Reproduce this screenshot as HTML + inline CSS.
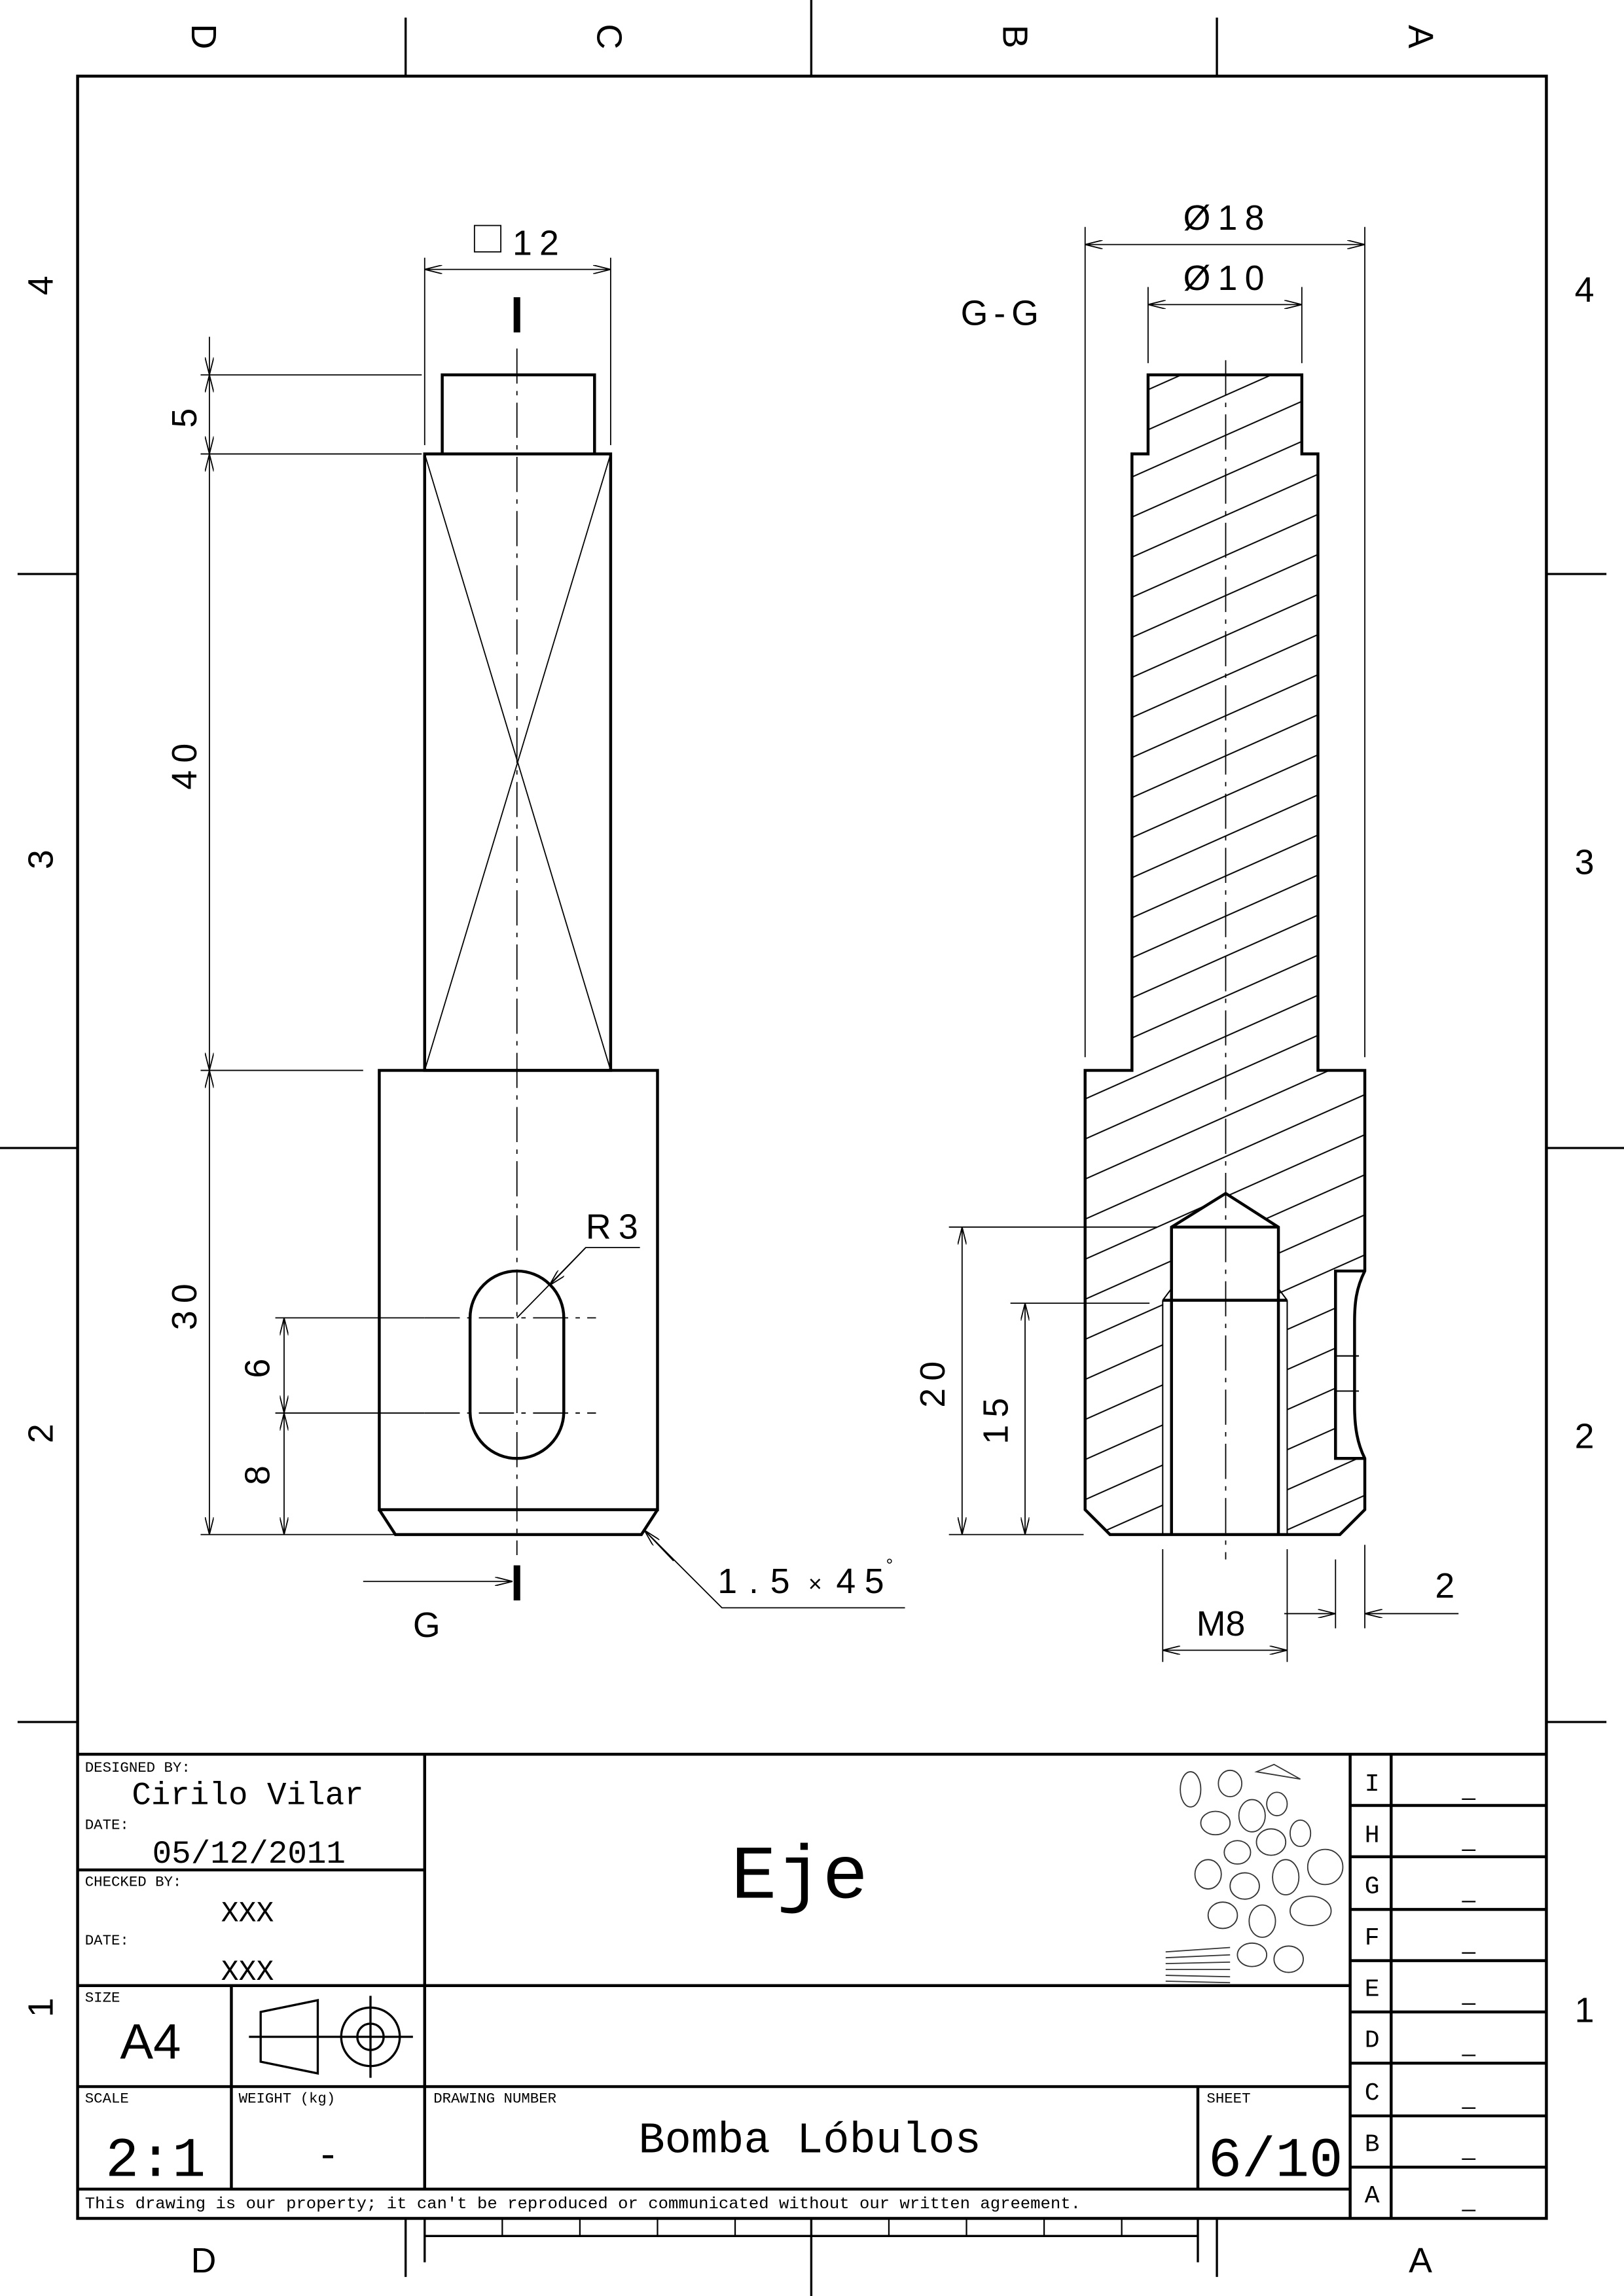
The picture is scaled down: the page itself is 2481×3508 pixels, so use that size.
<!DOCTYPE html>
<html><head><meta charset="utf-8"><style>
html,body{margin:0;padding:0;background:#fff}
svg{display:block}
.s{font-family:"Liberation Sans",sans-serif}
.mo{font-family:"Liberation Mono",monospace}
</style></head><body>
<svg width="2481" height="3508" viewBox="0 0 1109 1568" preserveAspectRatio="none" xmlns="http://www.w3.org/2000/svg">
<defs>
<marker id="a" viewBox="0 0 12 6" refX="12" refY="3" markerWidth="12" markerHeight="6" markerUnits="userSpaceOnUse" orient="auto-start-reverse">
<path d="M0,0 L12,3 L0,6" fill="none" stroke="#000" stroke-width="0.8"/></marker>
<pattern id="h" patternUnits="userSpaceOnUse" width="60" height="25" patternTransform="rotate(-24)">
<line x1="0" y1="12" x2="60" y2="12" stroke="#000" stroke-width="0.9"/></pattern>
</defs>
<rect width="1109" height="1568" fill="#fff"/>
<g stroke="#000" fill="none">
<rect x="53" y="52" width="1003" height="1463" stroke-width="2"/>
<g stroke-width="1.5">
<line x1="277" y1="12" x2="277" y2="52"/><line x1="554" y1="0" x2="554" y2="52"/><line x1="831" y1="12" x2="831" y2="52"/>
<line x1="12" y1="392" x2="53" y2="392"/><line x1="0" y1="784" x2="53" y2="784"/><line x1="12" y1="1176" x2="53" y2="1176"/>
<line x1="1056" y1="392" x2="1097" y2="392"/><line x1="1056" y1="784" x2="1109" y2="784"/><line x1="1056" y1="1176" x2="1097" y2="1176"/>
<line x1="277" y1="1515" x2="277" y2="1555"/><line x1="554" y1="1515" x2="554" y2="1568"/><line x1="831" y1="1515" x2="831" y2="1555"/>
<line x1="290" y1="1515" x2="290" y2="1545"/><line x1="818" y1="1515" x2="818" y2="1545"/>
<line x1="290" y1="1527" x2="818" y2="1527"/>
</g>
<g stroke-width="1">
<line x1="343" y1="1515" x2="343" y2="1527"/><line x1="396" y1="1515" x2="396" y2="1527"/><line x1="449" y1="1515" x2="449" y2="1527"/><line x1="502" y1="1515" x2="502" y2="1527"/><line x1="607" y1="1515" x2="607" y2="1527"/><line x1="660" y1="1515" x2="660" y2="1527"/><line x1="713" y1="1515" x2="713" y2="1527"/><line x1="766" y1="1515" x2="766" y2="1527"/>
</g>
<g stroke-width="2">
<line x1="53" y1="1198" x2="1056" y2="1198"/>
<line x1="290" y1="1198" x2="290" y2="1495"/>
<line x1="53" y1="1277" x2="290" y2="1277"/>
<line x1="53" y1="1356" x2="922" y2="1356"/>
<line x1="53" y1="1425" x2="922" y2="1425"/>
<line x1="158" y1="1356" x2="158" y2="1495"/>
<line x1="818" y1="1425" x2="818" y2="1495"/>
<line x1="53" y1="1495" x2="922" y2="1495"/>
<line x1="922" y1="1198" x2="922" y2="1515"/>
<line x1="950" y1="1198" x2="950" y2="1515"/>
<line x1="922" y1="1233" x2="1056" y2="1233"/><line x1="922" y1="1268" x2="1056" y2="1268"/><line x1="922" y1="1304" x2="1056" y2="1304"/><line x1="922" y1="1339" x2="1056" y2="1339"/><line x1="922" y1="1374" x2="1056" y2="1374"/><line x1="922" y1="1409" x2="1056" y2="1409"/><line x1="922" y1="1445" x2="1056" y2="1445"/><line x1="922" y1="1480" x2="1056" y2="1480"/>
</g>
<g stroke-width="1.5">
<path d="M178,1374 L217,1366 L217,1416 L178,1408 Z"/>
<circle cx="253" cy="1391" r="20"/><circle cx="253" cy="1391" r="9"/>
<line x1="170" y1="1391" x2="282" y2="1391"/><line x1="253" y1="1363" x2="253" y2="1419"/>
</g>
<g stroke-width="0.8" stroke="#333">
<ellipse cx="813" cy="1222" rx="7" ry="12"/><ellipse cx="840" cy="1218" rx="8" ry="9"/><path d="M858,1210 L888,1215 L870,1205 Z"/>
<ellipse cx="830" cy="1245" rx="10" ry="8"/><ellipse cx="855" cy="1240" rx="9" ry="11"/><ellipse cx="872" cy="1232" rx="7" ry="8"/>
<ellipse cx="845" cy="1265" rx="9" ry="8"/><ellipse cx="868" cy="1258" rx="10" ry="9"/><ellipse cx="888" cy="1252" rx="7" ry="9"/>
<ellipse cx="825" cy="1280" rx="9" ry="10"/><ellipse cx="850" cy="1288" rx="10" ry="9"/><ellipse cx="878" cy="1282" rx="9" ry="12"/><ellipse cx="905" cy="1275" rx="12" ry="12"/>
<ellipse cx="835" cy="1308" rx="10" ry="9"/><ellipse cx="862" cy="1312" rx="9" ry="11"/><ellipse cx="895" cy="1305" rx="14" ry="10"/>
<ellipse cx="855" cy="1335" rx="10" ry="8"/><ellipse cx="880" cy="1338" rx="10" ry="9"/>
<line x1="796" y1="1333" x2="840" y2="1330"/><line x1="796" y1="1337" x2="840" y2="1335"/><line x1="796" y1="1341" x2="840" y2="1340"/><line x1="796" y1="1345" x2="840" y2="1345"/><line x1="796" y1="1349" x2="840" y2="1350"/><line x1="796" y1="1353" x2="840" y2="1354"/>
</g>

<g stroke-width="2">
<path d="M302,310 L302,256 L406,256 L406,310"/>
<rect x="290" y="310" width="127" height="421"/>
<path d="M259,1031 L259,731 L449,731 L449,1031 Z"/>
<path d="M259,1031 L270,1048 L438,1048 L449,1031"/>
<rect x="321" y="868" width="64" height="128" rx="32" ry="32"/>
</g>
<g stroke-width="0.8">
<line x1="290" y1="310" x2="417" y2="731"/><line x1="417" y1="310" x2="290" y2="731"/>
</g>
<line x1="353" y1="238" x2="353" y2="1062" stroke-width="0.8" stroke-dasharray="24,5,3,5"/>
<line x1="290" y1="900" x2="407" y2="900" stroke-width="0.8" stroke-dasharray="24,5,3,5"/>
<line x1="290" y1="965" x2="407" y2="965" stroke-width="0.8" stroke-dasharray="24,5,3,5"/>
<g stroke-width="4.5"><line x1="353" y1="203" x2="353" y2="227"/><line x1="353" y1="1069" x2="353" y2="1093"/></g>
<g stroke-width="0.8">
<line x1="248" y1="1080" x2="350" y2="1080" marker-end="url(#a)"/>
<line x1="290" y1="176" x2="290" y2="304"/><line x1="417" y1="176" x2="417" y2="304"/>
<line x1="290" y1="184" x2="417" y2="184" marker-start="url(#a)" marker-end="url(#a)"/>
<rect x="324" y="154" width="18" height="18"/>
<line x1="137" y1="256" x2="288" y2="256"/><line x1="137" y1="310" x2="288" y2="310"/>
<line x1="137" y1="731" x2="248" y2="731"/><line x1="137" y1="1048" x2="290" y2="1048"/>
<line x1="143" y1="230" x2="143" y2="256" marker-end="url(#a)"/>
<line x1="143" y1="256" x2="143" y2="310" marker-start="url(#a)" marker-end="url(#a)"/>
<line x1="143" y1="310" x2="143" y2="731" marker-start="url(#a)" marker-end="url(#a)"/>
<line x1="143" y1="731" x2="143" y2="1048" marker-start="url(#a)" marker-end="url(#a)"/>
<line x1="188" y1="900" x2="290" y2="900"/><line x1="188" y1="965" x2="290" y2="965"/>
<line x1="194" y1="900" x2="194" y2="965" marker-start="url(#a)" marker-end="url(#a)"/>
<line x1="194" y1="965" x2="194" y2="1048" marker-start="url(#a)" marker-end="url(#a)"/>
<path d="M437,852 L400,852 L353,900"/>
<line x1="400" y1="852" x2="375" y2="878" marker-end="url(#a)"/>
<path d="M618,1098 L493,1098 L440,1045"/>
<line x1="460" y1="1066" x2="440" y2="1045" marker-end="url(#a)"/>
</g>

<path fill="url(#h)" stroke="none" fill-rule="evenodd" d="M784,256 L889,256 L889,310 L900,310 L900,731 L932,731 L932,868 L912,868 L912,996 L932,996 L932,1031 L915,1048 L758,1048 L741,1031 L741,731 L773,731 L773,310 L784,310 Z M800,838 L837,815 L873,838 L873,1048 L800,1048 Z"/>
<rect x="794" y="888" width="85" height="160" fill="#fff" stroke="none"/>
<g stroke-width="0.9">
<line x1="794" y1="888" x2="794" y2="1048"/><line x1="879" y1="888" x2="879" y2="1048"/>
<line x1="794" y1="888" x2="800" y2="880"/><line x1="879" y1="888" x2="873" y2="880"/>
<line x1="912" y1="926" x2="928" y2="926"/><line x1="912" y1="950" x2="928" y2="950"/>
</g>
<g stroke-width="2">
<path d="M784,310 L784,256 L889,256 L889,310 L900,310 L900,731 L932,731 L932,868 C926,880 925,890 925,903 L925,960 C925,975 927,986 932,996 L932,1031 L915,1048 L758,1048 L741,1031 L741,731 L773,731 L773,310 Z"/>
<path d="M932,868 L912,868 L912,996 L932,996"/>
<path d="M800,1048 L800,838 L837,815 L873,838 L873,1048"/>
<line x1="800" y1="838" x2="873" y2="838"/>
<line x1="794" y1="888" x2="879" y2="888"/>
</g>
<line x1="837" y1="246" x2="837" y2="1065" stroke-width="0.8" stroke-dasharray="24,5,3,5"/>
<g stroke-width="0.8">
<line x1="741" y1="155" x2="741" y2="722"/><line x1="932" y1="155" x2="932" y2="722"/>
<line x1="741" y1="167" x2="932" y2="167" marker-start="url(#a)" marker-end="url(#a)"/>
<line x1="784" y1="196" x2="784" y2="248"/><line x1="889" y1="196" x2="889" y2="248"/>
<line x1="784" y1="208" x2="889" y2="208" marker-start="url(#a)" marker-end="url(#a)"/>
<line x1="648" y1="838" x2="790" y2="838"/><line x1="690" y1="890" x2="785" y2="890"/><line x1="648" y1="1048" x2="740" y2="1048"/>
<line x1="657" y1="838" x2="657" y2="1048" marker-start="url(#a)" marker-end="url(#a)"/>
<line x1="700" y1="890" x2="700" y2="1048" marker-start="url(#a)" marker-end="url(#a)"/>
<line x1="794" y1="1058" x2="794" y2="1135"/><line x1="879" y1="1058" x2="879" y2="1135"/>
<line x1="794" y1="1127" x2="879" y2="1127" marker-start="url(#a)" marker-end="url(#a)"/>
<line x1="912" y1="1065" x2="912" y2="1112"/><line x1="932" y1="1055" x2="932" y2="1112"/>
<line x1="877" y1="1102" x2="912" y2="1102" marker-end="url(#a)"/>
<line x1="996" y1="1102" x2="932" y2="1102" marker-end="url(#a)"/>
</g>
</g>

<g font-size="24" class="s">
<text class="s" transform="translate(139,25) rotate(90)" text-anchor="middle" dominant-baseline="central">D</text>
<text class="s" transform="translate(416,25) rotate(90)" text-anchor="middle" dominant-baseline="central">C</text>
<text class="s" transform="translate(693,25) rotate(90)" text-anchor="middle" dominant-baseline="central">B</text>
<text class="s" transform="translate(970,25) rotate(90)" text-anchor="middle" dominant-baseline="central">A</text>
<text class="s" transform="translate(28,195) rotate(-90)" text-anchor="middle" dominant-baseline="central">4</text>
<text class="s" transform="translate(28,587) rotate(-90)" text-anchor="middle" dominant-baseline="central">3</text>
<text class="s" transform="translate(28,979) rotate(-90)" text-anchor="middle" dominant-baseline="central">2</text>
<text class="s" transform="translate(28,1371) rotate(-90)" text-anchor="middle" dominant-baseline="central">1</text>
<text class="s" x="1082" y="206" text-anchor="middle">4</text>
<text class="s" x="1082" y="597" text-anchor="middle">3</text>
<text class="s" x="1082" y="989" text-anchor="middle">2</text>
<text class="s" x="1082" y="1381" text-anchor="middle">1</text>
<text class="s" x="139" y="1552" text-anchor="middle">D</text>
<text class="s" x="970" y="1552" text-anchor="middle">A</text>
</g>
<g font-size="24" letter-spacing="5" class="s">
<text class="s" x="350" y="174">12</text>
<text class="s" x="808" y="157">Ø18</text>
<text class="s" x="808" y="198">Ø10</text>
<text class="s" x="656" y="222" letter-spacing="4">G-G</text>
<text class="s" x="282" y="1118">G</text>
<text class="s" x="400" y="846">R3</text>
<text class="s" x="490" y="1088" letter-spacing="8">1.5</text>
<text class="s" x="552" y="1087" font-size="16" letter-spacing="0">×</text>
<text class="s" x="571" y="1088" letter-spacing="6">45</text>
<text class="s" x="605" y="1073" font-size="12" letter-spacing="0">°</text>
<text class="s" x="817" y="1117" letter-spacing="0">M8</text>
<text class="s" x="980" y="1091">2</text>
<text class="s" transform="translate(126,283) rotate(-90)" text-anchor="middle" dominant-baseline="central">5</text>
<text class="s" transform="translate(126,521) rotate(-90)" text-anchor="middle" dominant-baseline="central">40</text>
<text class="s" transform="translate(126,890) rotate(-90)" text-anchor="middle" dominant-baseline="central">30</text>
<text class="s" transform="translate(176,932) rotate(-90)" text-anchor="middle" dominant-baseline="central">6</text>
<text class="s" transform="translate(176,1005) rotate(-90)" text-anchor="middle" dominant-baseline="central">8</text>
<text class="s" transform="translate(637,943) rotate(-90)" text-anchor="middle" dominant-baseline="central">20</text>
<text class="s" transform="translate(680,968) rotate(-90)" text-anchor="middle" dominant-baseline="central">15</text>
</g>
<g>
<text class="mo" x="58" y="1210" font-size="10">DESIGNED BY:</text>
<text class="mo" x="90" y="1232" font-size="22">Cirilo Vilar</text>
<text class="mo" x="58" y="1249" font-size="10">DATE:</text>
<text class="mo" x="104" y="1272" font-size="22">05/12/2011</text>
<text class="mo" x="58" y="1288" font-size="10">CHECKED BY:</text>
<text class="mo" x="151" y="1312" font-size="20">XXX</text>
<text class="mo" x="58" y="1328" font-size="10">DATE:</text>
<text class="mo" x="151" y="1352" font-size="20">XXX</text>
<text class="mo" x="58" y="1367" font-size="10">SIZE</text>
<text class="s" x="82" y="1406" font-size="34">A4</text>
<text class="mo" x="58" y="1436" font-size="10">SCALE</text>
<text class="mo" x="163" y="1436" font-size="10">WEIGHT (kg)</text>
<text class="mo" x="296" y="1436" font-size="10">DRAWING NUMBER</text>
<text class="mo" x="824" y="1436" font-size="10">SHEET</text>
<text class="mo" x="72" y="1486" font-size="38">2:1</text>
<text class="mo" x="224" y="1480" font-size="26" text-anchor="middle">-</text>
<text class="mo" x="553" y="1470" font-size="30" text-anchor="middle">Bomba Lóbulos</text>
<text class="mo" x="825" y="1486" font-size="38" textLength="92" lengthAdjust="spacingAndGlyphs">6/10</text>
<text class="mo" x="546" y="1296" font-size="52" text-anchor="middle">Eje</text>
<text class="mo" x="58" y="1508" font-size="11" textLength="680" lengthAdjust="spacingAndGlyphs">This drawing is our property; it can't be reproduced or communicated without our written agreement.</text>
</g>
<g font-size="17" text-anchor="middle">
<text class="mo" x="937" y="1223">I</text><text class="mo" x="937" y="1258">H</text><text class="mo" x="937" y="1293">G</text><text class="mo" x="937" y="1328">F</text><text class="mo" x="937" y="1363">E</text><text class="mo" x="937" y="1398">D</text><text class="mo" x="937" y="1434">C</text><text class="mo" x="937" y="1469">B</text><text class="mo" x="937" y="1504">A</text>
</g>
<g font-size="16" text-anchor="middle">
<text class="s" x="1003" y="1226">_</text><text class="s" x="1003" y="1261">_</text><text class="s" x="1003" y="1296">_</text><text class="s" x="1003" y="1331">_</text><text class="s" x="1003" y="1366">_</text><text class="s" x="1003" y="1401">_</text><text class="s" x="1003" y="1437">_</text><text class="s" x="1003" y="1472">_</text><text class="s" x="1003" y="1507">_</text>
</g>
</svg>
</body></html>
